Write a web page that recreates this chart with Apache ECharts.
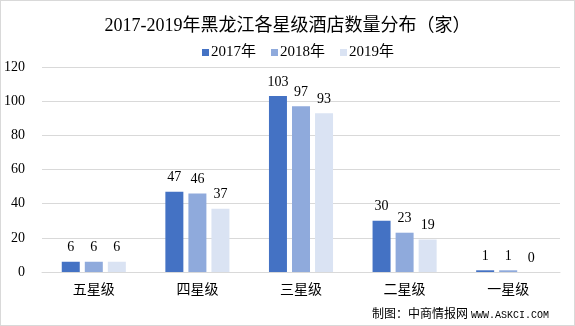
<!DOCTYPE html>
<html><head><meta charset="utf-8">
<script src="https://cdn.jsdelivr.net/npm/echarts@6/dist/echarts.min.js"></script>
<style>html,body{margin:0;padding:0;background:#fff}#c{width:575px;height:326px;box-sizing:border-box;border:1px solid #d9d9d9}</style>
</head><body><div id="c"></div>
<script>
const categories = ['五星级','四星级','三星级','二星级','一星级'];
const seriesNames = ['2017年','2018年','2019年'];
const v2017 = [6,47,103,30,1];
const v2018 = [6,46,97,23,1];
const v2019 = [6,37,93,19,0];
const colors = ['#4472C4','#8FAADC','#DAE3F3'];
const F = '"Liberation Serif","Noto Sans CJK SC",serif';
const M = '"Liberation Mono","Noto Sans CJK SC",monospace';
const chart = echarts.init(document.getElementById('c'));
const vals = [v2017, v2018, v2019];
chart.setOption({
  animation:false,
  title:{text:'2017-2019年黑龙江各星级酒店数量分布（家）',left:'center',top:11,
    textStyle:{fontFamily:F,fontSize:18,fontWeight:'normal',color:'#000'}},
  legend:{top:39,left:196,itemWidth:7,itemHeight:7,itemGap:15,icon:'rect',
    textStyle:{fontFamily:F,fontSize:15,color:'#000',padding:[0,0,0,-3]},data:seriesNames},
  grid:{left:41,right:14,top:66,bottom:53},
  xAxis:{type:'category',data:categories,axisTick:{show:false},
    axisLine:{lineStyle:{color:'#d9d9d9'}},
    axisLabel:{fontFamily:F,fontSize:14,color:'#000',margin:11}},
  yAxis:{type:'value',min:0,max:120,interval:20,
    axisLine:{show:false},axisTick:{show:false},
    splitLine:{lineStyle:{color:'#d9d9d9'}},
    axisLabel:{fontFamily:F,fontSize:14,color:'#000',margin:17}},
  series: seriesNames.map((n,i)=>({name:n,type:'bar',data:vals[i],barWidth:18,barGap:'28%',
    itemStyle:{color:colors[i]},
    label:{show:true,position:'top',distance:7,fontFamily:F,fontSize:14,color:'#000'}})),
  graphic:[{type:'text',right:25,bottom:4,style:{text:'{a|制图：中商情报网 }{b|WWW.ASKCI.COM}',
    rich:{a:{fontFamily:F,fontSize:12,fill:'#000'},b:{fontFamily:M,fontSize:10,fill:'#000'}}}}]
});
</script></body></html>
